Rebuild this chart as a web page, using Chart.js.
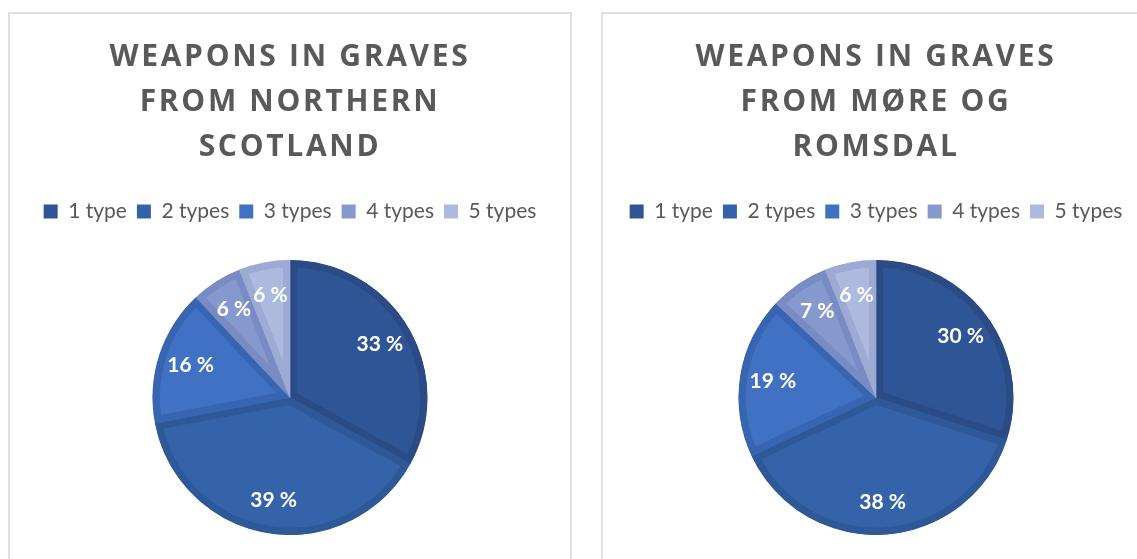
<!DOCTYPE html>
<html>
<head>
<meta charset="utf-8">
<script src="https://cdn.jsdelivr.net/npm/chart.js@4.4.1/dist/chart.umd.min.js"></script>
<style>
    html, body { margin: 0; padding: 0; background: #fff; overflow: hidden; }
    body { width: 1137px; height: 559px; position: relative; }
    .panel { position: absolute; top: 12px; height: 560px; border: 2px solid #e0e0e0; background: #fff; }
    #panel-left { left: 8px; width: 560px; }
    #panel-right { left: 601px; width: 546px; }
    .panel canvas { display: block; }
</style>
</head>
<body>
<div class="panel" id="panel-left"><canvas id="chart-left"></canvas></div>
<div class="panel" id="panel-right"><canvas id="chart-right"></canvas></div>
<script>
const categories = ['1 type', '2 types', '3 types', '4 types', '5 types'];
const scotlandValues = [33, 39, 16, 6, 6];
const moreRomsdalValues = [30, 38, 19, 7, 6];
const scotlandTitle = ['WEAPONS IN GRAVES', 'FROM NORTHERN', 'SCOTLAND'];
const moreRomsdalTitle = ['WEAPONS IN GRAVES', 'FROM MØRE OG', 'ROMSDAL'];

const sliceColors = ['#2f5597', '#3563aa', '#4171c2', '#8699cf', '#adbae0'];
const sliceEdges = ['#2a4b86', '#2f5899', '#3865b1', '#788bc2', '#9dabd4'];
const TEXT_GREY = '#595959';
const FONT = 'Lato, "Open Sans", sans-serif';
const TITLE_FONT = '"Open Sans", Lato, sans-serif';

// Draws the "33 %" style labels inside each slice
const sliceLabels = {
    id: 'sliceLabels',
    afterDatasetsDraw(chart) {
        const ctx = chart.ctx;
        const meta = chart.getDatasetMeta(0);
        const values = chart.data.datasets[0].data;
        ctx.save();
        ctx.fillStyle = '#ffffff';
        ctx.font = `bold 21px ${FONT}`;
        ctx.textAlign = 'center';
        ctx.textBaseline = 'middle';
        meta.data.forEach(function (arc, i) {
            let props = arc.getProps(['x', 'y', 'startAngle', 'endAngle', 'outerRadius']);
            let mid = (props.startAngle + props.endAngle) / 2;
            let r = props.outerRadius * 0.76;
            ctx.fillText(`${values[i]} %`, props.x + Math.cos(mid) * r, props.y + Math.sin(mid) * r);
        });
        ctx.restore();
    }
};

// Spaced-out title letters and extra room under the legend
const boxTweaks = {
    id: 'boxTweaks',
    beforeInit(chart) {
        const fit = chart.legend.fit;
        chart.legend.fit = function () {
            fit.bind(chart.legend)();
            this.height += 28;
        };
        const draw = chart.titleBlock.draw;
        chart.titleBlock.draw = function () {
            chart.ctx.letterSpacing = '2.7px';
            draw.apply(chart.titleBlock, arguments);
            chart.ctx.letterSpacing = '0px';
        };
    }
};

function makePie(canvasId, width, title, values) {
    const canvas = document.getElementById(canvasId);
    canvas.width = width;
    canvas.height = 560;
    canvas.style.width = `${width}px`;
    canvas.style.height = '560px';

    return new Chart(canvas, {
        type: 'pie',
        data: {
            labels: categories,
            datasets: [{
                data: values,
                backgroundColor: sliceColors,
                borderColor: sliceEdges,
                borderWidth: 7,
                borderAlign: 'inner'
            }]
        },
        options: {
            responsive: false,
            animation: false,
            layout: { padding: { top: 0, bottom: 39, left: 0, right: 0 } },
            plugins: {
                title: {
                    display: true,
                    text: title,
                    color: TEXT_GREY,
                    font: { family: TITLE_FONT, size: 30, weight: 'bold', lineHeight: 1.5 },
                    padding: { top: 21, bottom: 21 }
                },
                legend: {
                    display: true,
                    position: 'top',
                    labels: {
                        color: TEXT_GREY,
                        font: { family: FONT, size: 21 },
                        boxWidth: 14,
                        boxHeight: 14,
                        padding: 10,
                        generateLabels(chart) {
                            return categories.map(function (label, i) {
                                return {
                                    text: label,
                                    fillStyle: sliceColors[i],
                                    strokeStyle: sliceColors[i],
                                    lineWidth: 0,
                                    fontColor: TEXT_GREY,
                                    index: i
                                };
                            });
                        }
                    }
                },
                tooltip: { enabled: false }
            }
        },
        plugins: [sliceLabels, boxTweaks]
    });
}

makePie('chart-left', 560, scotlandTitle, scotlandValues);
makePie('chart-right', 546, moreRomsdalTitle, moreRomsdalValues);
</script>
</body>
</html>
